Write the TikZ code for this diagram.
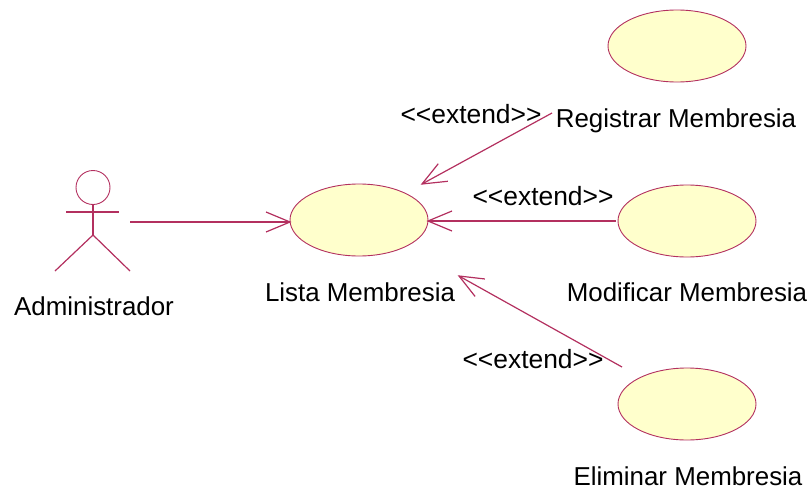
\documentclass[tikz,border=0pt]{standalone}
\usepackage{fontspec}
\setmainfont{Liberation Sans}
\usetikzlibrary{shapes.geometric,arrows.meta}
\definecolor{umlline}{HTML}{B3305F}
\definecolor{umlfill}{HTML}{FFFFCC}
\pgfdeclarearrow{
  name=OpenVee,
  setup code={
    \pgfarrowssettipend{0pt}
    \pgfarrowssetlineend{-0.6pt}
    \pgfarrowssetvisualbackend{-24pt}
    \pgfarrowssetbackend{-24pt}
    \pgfarrowssavethe\pgflinewidth
  },
  drawing code={
    \pgfsetdash{}{0pt}
    \pgfsetmiterjoin
    \pgfpathmoveto{\pgfpoint{-24pt}{10pt}}
    \pgfpathlineto{\pgfpointorigin}
    \pgfpathlineto{\pgfpoint{-24pt}{-10pt}}
    \pgfusepathqstroke
  }
}
\tikzset{
  usecase/.style={ellipse,draw=umlline,fill=umlfill,line width=0.9pt,minimum width=138pt,minimum height=72pt,inner sep=0pt},
  lbl/.style={font=\fontsize{25.9pt}{30pt}\selectfont,text=black,inner sep=0pt},
  xlbl/.style={font=\fontsize{26.4pt}{30pt}\selectfont,text=black,inner sep=0pt},
  limb/.style={draw=umlline,line width=1.2pt},
  assoc/.style={draw=umlline,line width=1.2pt,-OpenVee}
}
\newcommand{\xtnd}{{<}{<}extend{>}{>}}
\begin{document}
\begin{tikzpicture}[x=1pt,y=-1pt]
\useasboundingbox (0,0) rectangle (812,490);
\node[usecase] (lista) at (359,220) {};
\node[usecase] (registrar) at (677,46) {};
\node[usecase] (modificar) at (687,221) {};
\node[usecase] (eliminar) at (687,404) {};
\node[lbl] (tadmin) at (94,306) {Administrador};
\node[lbl] (tlista) at (360,292) {Lista Membresia};
\node[lbl] (treg) at (676,121) {Registrar Membresia};
\node[lbl] (tmod) at (687,292) {Modificar Membresia};
\node[lbl] (telim) at (688,476) {Eliminar Membresia};
\node[xlbl] (e1) at (471,114) {\xtnd};
\node[xlbl] (e2) at (543,196) {\xtnd};
\node[xlbl] (e3) at (533,359) {\xtnd};
\node[circle,draw=umlline,line width=0.9pt,minimum size=34pt,inner sep=0pt] (head) at (93,187.5) {};
\coordinate (hip) at (93,235);
\coordinate (armL) at (66,212);
\coordinate (armR) at (119,212);
\coordinate (legL) at (55,271);
\coordinate (legR) at (130,271);
\coordinate (actorhand) at (130,222);
\draw[limb] (head.south) -- (hip);
\draw[limb] (armL) -- (armR);
\draw[limb] (legL) -- (hip) -- (legR);
\draw[assoc] (actorhand) -- ([shift={(-69,2)}]lista.center);
\draw[assoc] ([shift={(-124,-8)}]treg.center) -- ([shift={(63,-36)}]lista.center);
\draw[assoc] ([shift={(-71,0)}]modificar.center) -- ([shift={(69,1)}]lista.center);
\draw[assoc] ([shift={(-65,-37)}]eliminar.center) -- ([shift={(100,56)}]lista.center);
\end{tikzpicture}
\end{document}
